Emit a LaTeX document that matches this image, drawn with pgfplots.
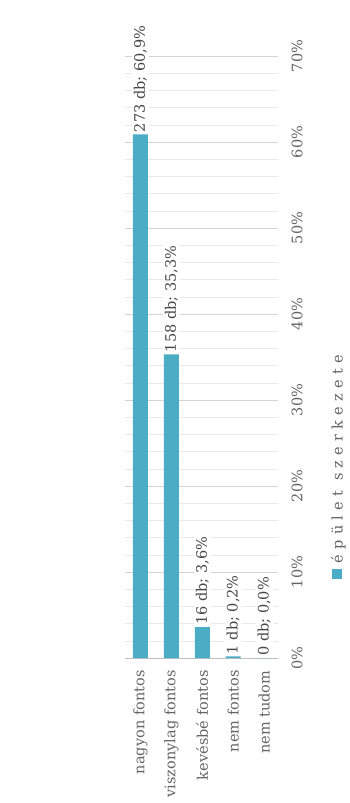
\documentclass[border=0pt]{standalone}
\usepackage{pgfplots}
\pgfplotsset{compat=1.18}
\usepackage{fontspec}
\setmainfont{DejaVu Serif}
\definecolor{barc}{RGB}{75,172,198}
\definecolor{txt}{RGB}{100,100,100}
\newcommand\semi{;}
\begin{document}
\begin{tikzpicture}[font=\fontsize{14.5}{16}\selectfont]
\path[use as bounding box] (0,0) rectangle (349pt,803pt);
\begin{axis}[
  at={(125pt,145pt)}, anchor=south west,
  scale only axis, width=153pt, height=602pt,
  xmin=-0.5, xmax=4.45, ymin=0, ymax=70,
  xtick={0,1,2,3,4},
  xticklabels={nagyon fontos, viszonylag fontos, kevésbé fontos, nem fontos, nem tudom},
  ytick={0,10,20,30,40,50,60,70},
  yticklabels={0\%,10\%,20\%,30\%,40\%,50\%,60\%,70\%},
  minor y tick num=4,
  ymajorgrids, yminorgrids,
  major grid style={draw=black!17},
  minor grid style={draw=black!9},
  axis x line*=bottom, axis y line*=right,
  x axis line style={draw=black!25, -},
  y axis line style={draw=none},
  major tick length=0pt, minor tick length=0pt,
  yticklabel pos=right,
  yticklabel shift=10pt,
  xticklabel shift=9pt,
  xticklabel style={rotate=90, anchor=east, text=txt},
  yticklabel style={rotate=90, anchor=north, text=txt},
  clip=false,
]
\addplot[ybar, bar width=15pt, fill=barc, draw=none,
  point meta=y,
  visualization depends on={\thisrow{n} \as \cnt},
  nodes near coords={\pgfmathprintnumber[fixed,precision=0,assume math mode=true]{\cnt}\ db\semi\ \pgfmathprintnumber[fixed,fixed zerofill,precision=1,use comma,assume math mode=true]{\pgfplotspointmeta}\%},
  nodes near coords style={rotate=90, anchor=west, text=black!72, fill=white, inner sep=2pt}]
  table[x=x, y=y] {
    x y n
    0 60.9 273
    1 35.3 158
    2 3.6 16
    3 0.2 1
    4 0.0 0
  };
\node[rotate=90, text=txt, inner sep=0pt] at (rel axis cs:1.395,0.317)
  {\textcolor{barc}{\rule[0.5pt]{10pt}{10pt}}\hspace{6pt}{\addfontfeatures{LetterSpace=36}épület szerkezete}};
\end{axis}
\end{tikzpicture}
\end{document}
